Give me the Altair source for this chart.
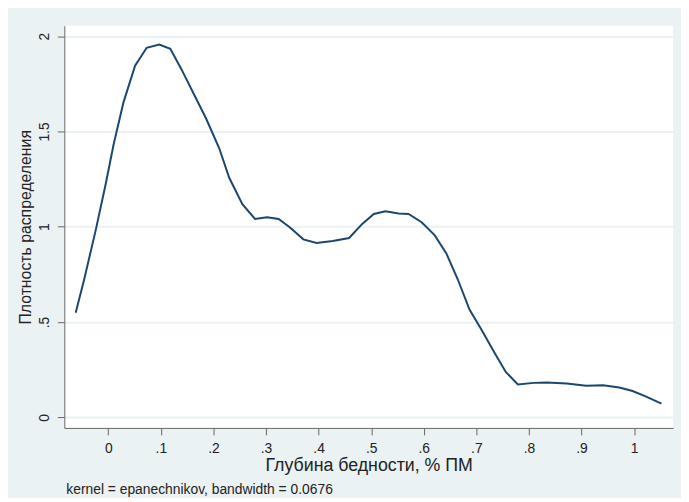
import altair as alt
import pandas as pd

# Kernel density curve
x_vals = [-0.062, -0.046, -0.024, -0.005, 0.010, 0.029, 0.051, 0.073, 0.097, 0.118,
          0.139, 0.161, 0.186, 0.211, 0.230, 0.255, 0.279, 0.302, 0.324, 0.345,
          0.371, 0.396, 0.427, 0.458, 0.483, 0.505, 0.527, 0.552, 0.571, 0.596,
          0.621, 0.643, 0.665, 0.687, 0.709, 0.734, 0.756, 0.779, 0.809, 0.834,
          0.872, 0.909, 0.941, 0.972, 0.997, 1.022, 1.052]
y_vals = [0.549, 0.722, 0.981, 1.223, 1.430, 1.654, 1.845, 1.939, 1.956, 1.934,
          1.827, 1.706, 1.568, 1.412, 1.257, 1.119, 1.041, 1.050, 1.041, 0.998,
          0.934, 0.915, 0.925, 0.941, 1.015, 1.067, 1.081, 1.070, 1.067, 1.024,
          0.955, 0.860, 0.722, 0.566, 0.463, 0.342, 0.238, 0.173, 0.181, 0.183,
          0.178, 0.166, 0.169, 0.157, 0.138, 0.110, 0.072]

x_ticks = [0, 0.1, 0.2, 0.3, 0.4, 0.5, 0.6, 0.7, 0.8, 0.9, 1.0]
y_ticks = [0, 0.5, 1.0, 1.5, 2.0]

x_title = "Глубина бедности, % ПМ"
y_title = "Плотность распределения"
note = "kernel = epanechnikov, bandwidth = 0.0676"

df = pd.DataFrame({"x": x_vals, "y": y_vals})

FONT = "Liberation Sans"
AXIS_COL = "#666666"
TEXT_COL = "#222222"

chart = alt.Chart(df).mark_line(color="#1a476f", strokeWidth=2, interpolate="linear").encode(
    x=alt.X("x:Q",
            scale=alt.Scale(domain=[-0.0836, 1.0742], nice=False, zero=False),
            axis=alt.Axis(values=x_ticks, format=".1~f",
                          labelExpr="replace(datum.label, /^0\\./, '.')",
                          title=x_title, grid=False,
                          domainColor=AXIS_COL, tickColor=AXIS_COL, tickSize=7,
                          labelFontSize=14, labelColor=TEXT_COL, labelPadding=7,
                          labelFont=FONT, titleFont=FONT, titleFontSize=18,
                          titleFontWeight="normal", titleColor=TEXT_COL, titlePadding=1)),
    y=alt.Y("y:Q",
            scale=alt.Scale(domain=[-0.0554, 2.055], nice=False, zero=False),
            axis=alt.Axis(values=y_ticks, format=".1~f",
                          labelExpr="replace(datum.label, /^0\\./, '.')",
                          title=y_title, grid=True, gridColor="#eaf2f4", gridWidth=2,
                          domainColor=AXIS_COL, tickColor=AXIS_COL, tickSize=7,
                          labelAngle=270, labelAlign="center", labelBaseline="bottom",
                          labelFontSize=14, labelColor=TEXT_COL, labelPadding=6,
                          labelFont=FONT, titleFont=FONT, titleFontSize=16,
                          titleFontWeight="normal", titleColor=TEXT_COL, titlePadding=4)),
).properties(
    width=616,
    height=407,
    background="#eaf2f3",
    padding={"left": 57, "top": 15, "right": 8, "bottom": 68},
    autosize=alt.AutoSizeParams(type="none"),
    title=alt.TitleParams(text=note, orient="bottom", anchor="start", fontSize=14,
                          font=FONT, fontWeight="normal", color=TEXT_COL,
                          offset=9, dx=49),
).configure_view(fill="white", strokeWidth=0)

chart.save("out.html", embed_options={"renderer": "svg", "actions": False})
